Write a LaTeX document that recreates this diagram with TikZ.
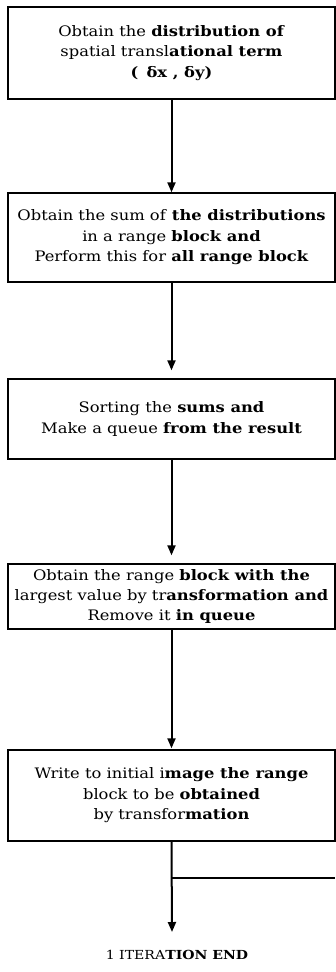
\documentclass[tikz,border=0pt]{standalone}
\usepackage{fontspec}
\setmainfont{DejaVu Serif}[FakeStretch=1.13]
\usetikzlibrary{arrows.meta}
\begin{document}
\begin{tikzpicture}[x=1bp,y=-1bp,
  stepbox/.style={draw=black,line width=1.4bp,rectangle,minimum width=327bp,inner sep=0pt,align=center,
    font=\fontsize{14.5}{20.5}\selectfont},
  flow/.style={line width=2bp,-{Triangle[length=10bp,width=8bp]}},
  plain/.style={line width=1.4bp}]
\useasboundingbox (0,0) rectangle (335,972);
\node[stepbox,minimum height=92bp] (b1) at (171.5,53) {Obtain the \textbf{distribution of}\\spatial transl\textbf{ational term}\\\textbf{(\, δx , δy)}};
\node[stepbox,minimum height=89bp] (b2) at (171.5,237.5) {Obtain the sum of \textbf{the distributions}\\in a range \textbf{block and}\\Perform this for \textbf{all range block}};
\node[stepbox,minimum height=80bp] (b3) at (171.5,419) {Sorting the \textbf{sums and}\\Make a queue \textbf{from the result}};
\node[stepbox,minimum height=65bp] (b4) at (171.5,596.5) {Obtain the range \textbf{block with the}\\largest value by tr\textbf{ansformation and}\\Remove it \textbf{in queue}};
\node[stepbox,minimum height=91bp] (b5) at (171.5,795.5) {Write to initial i\textbf{mage the range}\\block to be \textbf{obtained}\\by transfor\textbf{mation}};
\node[font=\fontsize{12.5}{15}\selectfont] (endtxt) at (177,955) {1 ITERA\textbf{TION END}};
\coordinate (tip) at (172,932);
\coordinate (join) at (172,878);
\coordinate (exit) at (335,878);
\draw[flow] (b1.south) -- (b2.north);
\draw[flow,shorten >=8bp] (b2.south) -- (b3.north);
\draw[flow,shorten >=8bp] (b3.south) -- (b4.north);
\draw[flow,shorten >=1bp] (b4.south) -- (b5.north);
\draw[flow] (b5.south) -- (tip);
\draw[plain] (join) -- (exit);
\end{tikzpicture}
\end{document}
